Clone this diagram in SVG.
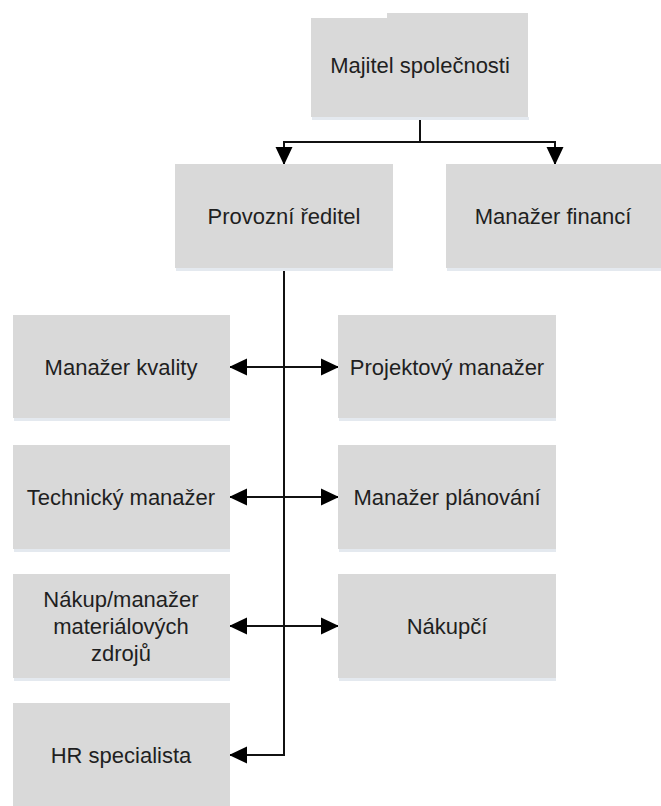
<svg xmlns="http://www.w3.org/2000/svg" width="661" height="806" viewBox="0 0 661 806">
  <defs>
    <style>
      .box { fill: #d9d9d9; }
      .shade { fill: #e4e9ef; }
      .label { font-family: "Liberation Sans", Arial, sans-serif; font-size: 22px; fill: #1f1f1f; text-anchor: middle; }
      .link { stroke: #111; stroke-width: 2; fill: none; }
    </style>
    <marker id="arrow" markerUnits="userSpaceOnUse" markerWidth="19" markerHeight="18" refX="17" refY="9" orient="auto-start-reverse">
      <path d="M0,0.5 L18,9 L0,17.5 z" fill="#000"/>
    </marker>
  </defs>
  <rect width="661" height="806" fill="#fff"/>

  <!-- connectors -->
  <g id="connectors">
    <path class="link" d="M420,117 V142"/>
    <path class="link" d="M284,164 V142 H555 V164" marker-start="url(#arrow)" marker-end="url(#arrow)"/>
    <path class="link" d="M284,268 V755 H230" marker-end="url(#arrow)"/>
    <path class="link" d="M230,367 H338" marker-start="url(#arrow)" marker-end="url(#arrow)"/>
    <path class="link" d="M230,497 H338" marker-start="url(#arrow)" marker-end="url(#arrow)"/>
    <path class="link" d="M230,626 H338" marker-start="url(#arrow)" marker-end="url(#arrow)"/>
  </g>

  <g id="owner">
    <rect class="shade" x="312" y="117" width="217" height="3"/>
    <path class="box" d="M311,18 H387 V13 H528 V117 H311 z"/>
    <text class="label" x="420" y="73">Majitel společnosti</text>
  </g>

  <g id="operations-director">
    <rect class="shade" x="176" y="268" width="217" height="3"/>
    <rect class="box" x="175" y="164" width="218" height="104"/>
    <text class="label" x="284" y="224">Provozní ředitel</text>
  </g>

  <g id="finance-manager">
    <rect class="shade" x="447" y="268" width="214" height="3"/>
    <rect class="box" x="446" y="164" width="215" height="104"/>
    <text class="label" x="553" y="224">Manažer financí</text>
  </g>

  <g id="quality-manager">
    <rect class="shade" x="14" y="418" width="216" height="3"/>
    <rect class="box" x="13" y="315" width="217" height="103"/>
    <text class="label" x="121" y="375">Manažer kvality</text>
  </g>

  <g id="project-manager">
    <rect class="shade" x="339" y="418" width="217" height="3"/>
    <rect class="box" x="338" y="315" width="218" height="103"/>
    <text class="label" x="447" y="375">Projektový manažer</text>
  </g>

  <g id="technical-manager">
    <rect class="shade" x="14" y="549" width="216" height="3"/>
    <rect class="box" x="13" y="445" width="217" height="104"/>
    <text class="label" x="121" y="505">Technický manažer</text>
  </g>

  <g id="planning-manager">
    <rect class="shade" x="339" y="549" width="217" height="3"/>
    <rect class="box" x="338" y="445" width="218" height="104"/>
    <text class="label" x="447" y="505">Manažer plánování</text>
  </g>

  <g id="materials-manager">
    <rect class="shade" x="14" y="678" width="216" height="3"/>
    <rect class="box" x="13" y="574" width="217" height="104"/>
    <text class="label" x="121" y="607">Nákup/manažer</text>
    <text class="label" x="121" y="634">materiálových</text>
    <text class="label" x="121" y="661">zdrojů</text>
  </g>

  <g id="buyer">
    <rect class="shade" x="339" y="678" width="217" height="3"/>
    <rect class="box" x="338" y="574" width="218" height="104"/>
    <text class="label" x="447" y="634">Nákupčí</text>
  </g>

  <g id="hr-specialist">
    <rect class="box" x="13" y="703" width="217" height="103"/>
    <text class="label" x="121" y="763">HR specialista</text>
  </g>
</svg>
